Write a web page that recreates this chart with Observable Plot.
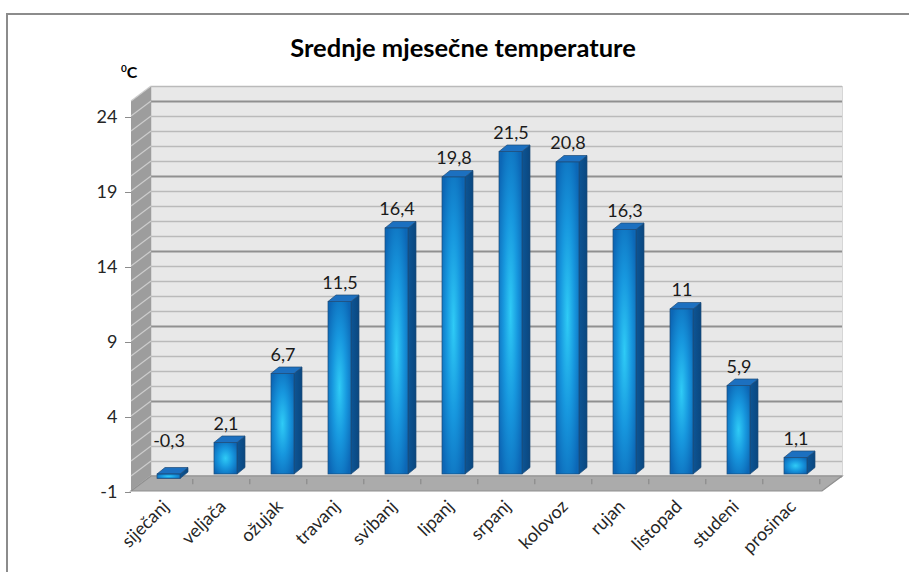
<!DOCTYPE html>
<html><head><meta charset="utf-8">
<script src="https://cdn.jsdelivr.net/npm/d3@7"></script>
<script src="https://cdn.jsdelivr.net/npm/@observablehq/plot@0.6"></script>
<style>
body{margin:0;background:#fff;width:909px;height:572px;overflow:hidden;position:relative;font-family:Lato,"Open Sans",sans-serif;}
#frame{position:absolute;left:6px;top:13px;width:1000px;height:1000px;border-left:2px solid #8c8c8c;border-top:2px solid #8c8c8c;}
#chart{position:absolute;left:0;top:0;}
#title{position:absolute;left:0;width:926px;top:32px;text-align:center;font-weight:bold;font-size:25.5px;line-height:30px;color:#000;}
#unit{position:absolute;left:121px;top:62px;font-weight:bold;font-size:16px;color:#000;}
#unit sup{font-size:10px;}
</style></head><body>
<div id="frame"></div>
<div id="chart"></div>
<div id="title">Srednje mjesečne temperature</div>
<div id="unit"><sup>0</sup>C</div>
<script>
const months = ["siječanj","veljača","ožujak","travanj","svibanj","lipanj","srpanj","kolovoz","rujan","listopad","studeni","prosinac"];
const temps = [-0.3, 2.1, 6.7, 11.5, 16.4, 19.8, 21.5, 20.8, 16.3, 11, 5.9, 1.1];
const yTicks = [-1, 4, 9, 14, 19, 24];
const yDomain = [-1, 25];

const data = months.map((m, i) => ({month: m, t: temps[i]}));
const fmt = v => String(v).replace(".", ",");

// 3D offsets (pixels)
const WALL = {dx: 20, dy: -15};
const BAR = {dx: 5, dy: -2};
const DEPTH = {dx: 8, dy: -6.5};

const W = 909, H = 572, ML = 131, MR = 87, MT = 101, MB = 81;
const step = (W - ML - MR) / months.length;

function defs() {
  const svg = d3.create("svg:defs");
  const rg = svg.append("radialGradient").attr("id", "frontGrad").attr("cx", 0.5).attr("cy", 0.5).attr("r", 0.62);
  rg.append("stop").attr("offset", 0).attr("stop-color", "#2fcbf6");
  rg.append("stop").attr("offset", 0.5).attr("stop-color", "#1797de");
  rg.append("stop").attr("offset", 1).attr("stop-color", "#0c67b6");
  const sg = svg.append("linearGradient").attr("id", "sideGrad").attr("x1", 0).attr("x2", 1).attr("y1", 0).attr("y2", 0);
  sg.append("stop").attr("offset", 0).attr("stop-color", "#0d5595");
  sg.append("stop").attr("offset", 1).attr("stop-color", "#0a477f");
  return svg.node();
}

function walls(index, scales, values, dim) {
  const y = scales.y;
  const x0 = dim.marginLeft, x1 = dim.width - dim.marginRight;
  const yb = dim.height - dim.marginBottom, yt = dim.marginTop;
  const g = d3.create("svg:g");
  g.append("path")
    .attr("d", `M${x0},${yb}L${x0},${yt}L${x0 + WALL.dx},${yt + WALL.dy}L${x0 + WALL.dx},${yb + WALL.dy}Z`)
    .attr("fill", "#9d9d9d");
  for (let v = yDomain[0]; v <= yDomain[1]; v++) {
    g.append("line")
      .attr("x1", x0).attr("y1", y(v)).attr("x2", x0 + WALL.dx).attr("y2", y(v) + WALL.dy)
      .attr("stroke", "#cdcdcd").attr("stroke-width", 1.2);
  }
  g.append("path")
    .attr("d", `M${x0},${yb}L${x1},${yb}L${x1 + WALL.dx},${yb + WALL.dy}L${x0 + WALL.dx},${yb + WALL.dy}Z`)
    .attr("fill", "#ababab").attr("stroke", "#8f8f8f").attr("stroke-width", 1.2);
  return g.node();
}

function barFaces(index, scales) {
  const x = scales.x, y = scales.y;
  const bw = x.bandwidth ? x.bandwidth() : 23;
  const g = d3.create("svg:g");
  for (const d of data) {
    const xl = x(d.month) + BAR.dx, xr = xl + bw;
    const yTop = y(Math.max(d.t, 0)) + BAR.dy, yBot = y(Math.min(d.t, 0)) + BAR.dy;
    g.append("path")
      .attr("d", `M${xr},${yBot}L${xr},${yTop}L${xr + DEPTH.dx},${yTop + DEPTH.dy}L${xr + DEPTH.dx},${yBot + DEPTH.dy}Z`)
      .attr("fill", "url(#sideGrad)").attr("stroke", "#1e4b77").attr("stroke-width", 0.7);
    g.append("path")
      .attr("d", `M${xl},${yTop}L${xr},${yTop}L${xr + DEPTH.dx},${yTop + DEPTH.dy}L${xl + DEPTH.dx},${yTop + DEPTH.dy}Z`)
      .attr("fill", "#1c70c0").attr("stroke", "#1e4b77").attr("stroke-width", 0.7);
  }
  return g.node();
}

const minorGrid = d3.range(yDomain[0], yDomain[1] + 1).filter(v => !yTicks.includes(v));

const chart = Plot.plot({
  width: W, height: H,
  marginLeft: ML, marginRight: MR, marginTop: MT, marginBottom: MB,
  style: {background: "transparent", fontFamily: "Lato, 'Open Sans', sans-serif", overflow: "visible"},
  x: {type: "band", domain: months, paddingInner: 0.6, paddingOuter: 0.3},
  y: {domain: yDomain},
  marks: [
    defs,
    Plot.frame({fill: "#e8e8e8", stroke: "#d6d6d6", dx: WALL.dx, dy: WALL.dy}),
    Plot.ruleY(minorGrid, {dx: WALL.dx, dy: WALL.dy, stroke: "#bababa", strokeWidth: 1.5}),
    Plot.ruleY(yTicks, {dx: WALL.dx, dy: WALL.dy, stroke: "#909090", strokeWidth: 2}),
    walls,
    Plot.ruleX(months, {x: d => d, dx: step / 2, y1: -0.2, y2: -0.55, stroke: "#8a8a8a", strokeWidth: 1.2}),
    barFaces,
    Plot.barY(data, {x: "month", y1: () => 0, y2: "t", dx: BAR.dx, dy: BAR.dy, fill: "url(#frontGrad)", stroke: "#1e4b77", strokeWidth: 0.7}),
    Plot.text(data.filter(d => d.t >= 0), {x: "month", y: "t", text: d => fmt(d.t), dx: BAR.dx, dy: BAR.dy - 19, fontSize: 18, fill: "#1a1a1a"}),
    Plot.text(data.filter(d => d.t < 0), {x: "month", y: () => 0, text: d => fmt(d.t), dx: BAR.dx, dy: BAR.dy - 33, fontSize: 18, fill: "#1a1a1a"}),
    Plot.axisY({ticks: yTicks, tickFormat: d => String(d), tickSize: 6, tickPadding: 8, fontSize: 18, fill: "#262626", stroke: "#8c8c8c", label: null, dy: 1}),
    Plot.axisX({tickSize: 0, tickRotate: -45, tickPadding: 12, fontSize: 18, fill: "#262626", label: null, dx: 2})
  ]
});
document.getElementById("chart").appendChild(chart);
</script>
</body></html>
